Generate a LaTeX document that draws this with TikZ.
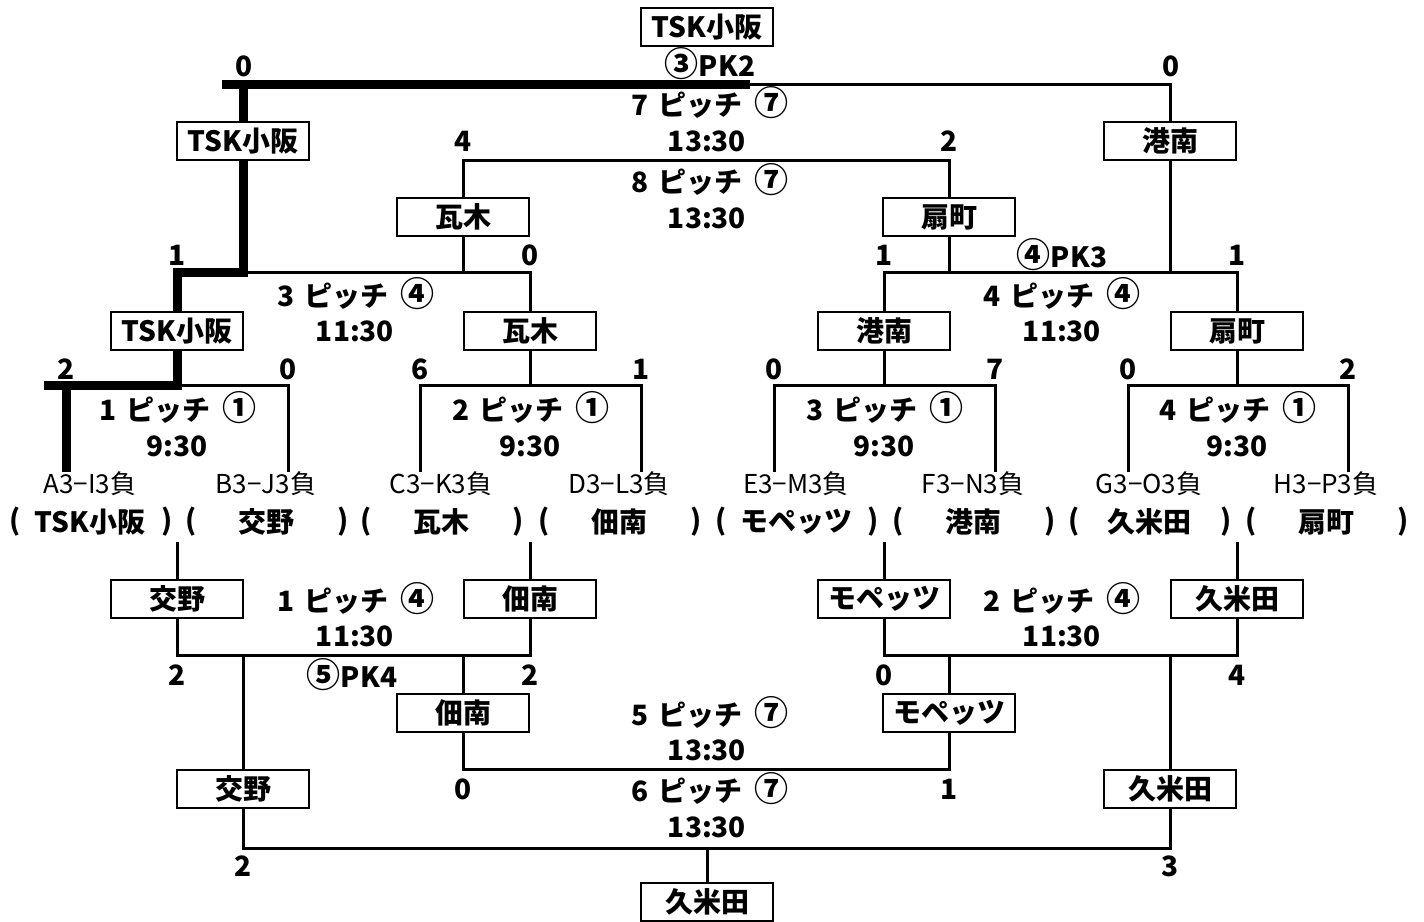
\documentclass[tikz,border=0pt]{standalone}
\usepackage{fontspec}
\setmainfont{Noto Sans CJK JP}

\begin{document}
\begin{tikzpicture}[x=0.5pt,y=-0.5pt,%
  team/.style={draw,fill=white,line width=0.6pt,minimum width=66pt,minimum height=19pt,
    inner sep=0pt,font=\fontsize{14}{16}\selectfont\bfseries},
  lbl/.style={inner sep=0pt,font=\fontsize{14}{16}\selectfont\bfseries},
  circ/.style={font=\fontsize{17}{17}\selectfont\bfseries},
  seed/.style={inner sep=0pt,font=\fontsize{13}{15}\selectfont},
  ln/.style={line width=1.5pt},
  win/.style={line width=4.5pt}]
  \useasboundingbox (0,0) rectangle (1424,921);
  % boxes
  \node[team] (champ) at (707,27) {TSK小阪};
  \node[team] (f1) at (243,141) {TSK小阪};
  \node[team] (f2) at (1170,141) {港南};
  \node[team] (s1) at (463,217) {瓦木};
  \node[team] (s2) at (949,217) {扇町};
  \node[team] (q1) at (177,331) {TSK小阪};
  \node[team] (q2) at (530,331) {瓦木};
  \node[team] (q3) at (884,331) {港南};
  \node[team] (q4) at (1237,331) {扇町};
  \node[team] (c1) at (177,599) {交野};
  \node[team] (c2) at (530,599) {佃南};
  \node[team] (c3) at (884,599) {モペッツ};
  \node[team] (c4) at (1237,599) {久米田};
  \node[team] (d1) at (463,713) {佃南};
  \node[team] (d2) at (949,713) {モペッツ};
  \node[team] (e1) at (243,789) {交野};
  \node[team] (e2) at (1170,789) {久米田};
  \node[team] (fin) at (707,902) {久米田};
  % first round
  \foreach \i/\a/\b in {1/66/288,2/420/641,3/774/995,4/1128/1348}{
    \coordinate (m\i) at (q\i |- 0,385);
    \coordinate (la\i) at (\a,472); \coordinate (lb\i) at (\b,472);
    \draw[ln] (la\i) |- (m\i) -| (lb\i) (m\i) -- (q\i.south);
    \draw[ln] (c\i.north) -- (c\i |- 0,542);
  }
  % upper brackets
  \draw[ln] (q1.north) |- (f1 |- 0,272) -| (q2.north)
    (f1.south) -- (f1 |- 0,272) (s1.south) -- (s1 |- 0,272);
  \draw[ln] (q3.north) |- (s2 |- 0,272) -| (q4.north)
    (s2.south) -- (s2 |- 0,272) (f2.south) -- (f2 |- 0,272);
  \draw[ln] (s1.north) |- (champ |- 0,160) -| (s2.north);
  \draw[ln] (f1.north) |- (champ |- 0,84) -| (f2.north);
  % winner path
  \coordinate (w0) at (44,385); \coordinate (w1) at (222,84); \coordinate (w2) at (750,84);
  \draw[win] (la1) -- (la1 |- m1) (w0) -- (m1) -- (q1.south)
    (q1.north) |- (f1 |- 0,272) -- (f1.south) (f1.north) -- (f1 |- w1) (w1) -- (w2);
  % lower brackets
  \draw[ln] (c1.south) |- (355,655) -| (c2.south)
    (e1.north) -- (e1 |- 0,655) (d1.north) -- (d1 |- 0,655);
  \draw[ln] (c3.south) |- (1062,655) -| (c4.south)
    (d2.north) -- (d2 |- 0,655) (e2.north) -- (e2 |- 0,655);
  \draw[ln] (d1.south) |- (champ |- 0,769) -| (d2.south);
  \draw[ln] (e1.south) |- (fin |- 0,848) -| (e2.south) (fin.north) -- (fin |- 0,848);
  % scores
  \foreach \x/\y/\t [count=\k] in {244/66/0,1171/66/0,463/141/4,949/141/2,
    177/255/1,530/255/0,884/255/1,1237/255/1,
    66/369/2,288/369/0,420/369/6,641/369/1,774/369/0,995/369/7,1128/369/0,1348/369/2,
    177/675/2,530/675/2,884/675/0,1237/675/4,463/789/0,949/789/1,243/866/2,1170/866/3}
    \node[lbl] (sc\k) at (\x,\y) {\t};
  \node[lbl] (pk1) at (710,64) {{\fontsize{17}{17}\selectfont ③}PK2};
  \node[lbl] (pk2) at (1062,255) {{\fontsize{17}{17}\selectfont ④}PK3};
  \node[lbl] (pk3) at (352,675) {{\fontsize{17}{17}\selectfont ⑤}PK4};
  % pitches and times
  \foreach \x/\y/\n/\c [count=\k] in {710/103/7/⑦,710/180/8/⑦,356/294/3/④,1062/294/4/④,
    178/408/1/①,531/408/2/①,885/408/3/①,1238/408/4/①,
    356/599/1/④,1062/599/2/④,710/713/5/⑦,710/789/6/⑦}
    \node[lbl] (pt\k) at (\x,\y) {\n\hspace{5pt}ピッチ\hspace{6pt}{\fontsize{17}{17}\selectfont\c}};
  \foreach \x/\y/\t [count=\k] in {707/141/13:30,707/218/13:30,355/331/11:30,1062/331/11:30,
    177/446/9:30,530/446/9:30,884/446/9:30,1237/446/9:30,
    355/636/11:30,1062/636/11:30,707/750/13:30,707/827/13:30}
    \node[lbl] (tm\k) at (\x,\y) {\t};
  % seeds
  \foreach \x/\s/\t [count=\k] in {90/A3−I3負/TSK小阪,266/B3−J3負/交野,441/C3−K3負/瓦木,
    619/D3−L3負/佃南,796/E3−M3負/モペッツ,973/F3−N3負/港南,1149/G3−O3負/久米田,1326/H3−P3負/扇町}{
    \node[seed] (sd\k) at (\x,484) {\s};
    \node[lbl] (nm\k) at (\x,522) {\t};
    \node[lbl] (lp\k) at (\x-75,522) {(};
    \node[lbl] (rp\k) at (\x+77,522) {)};
  }
\end{tikzpicture}
\end{document}
